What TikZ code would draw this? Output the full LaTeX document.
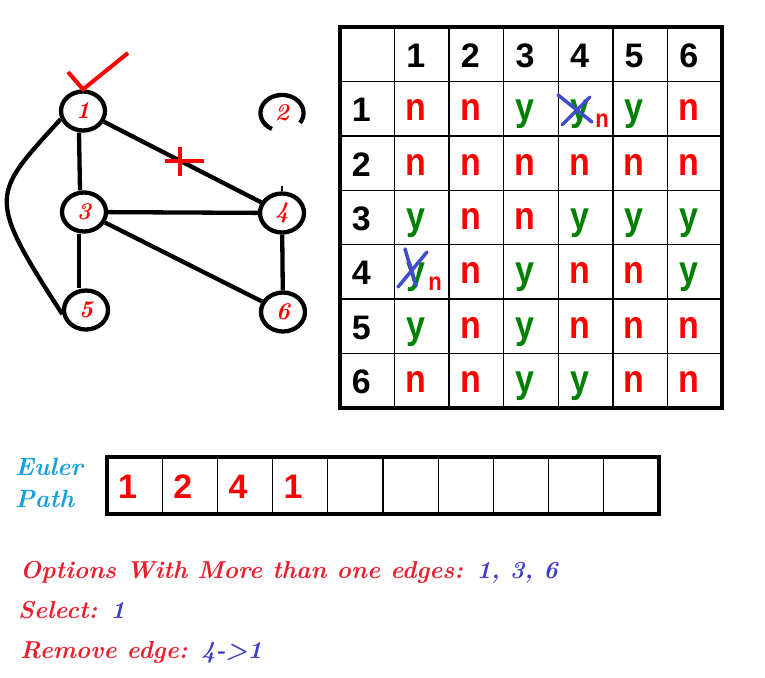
\documentclass[tikz,border=0pt]{standalone}
\usepackage{fontspec}
\usepackage{graphicx}
\newfontfamily\tabfont{Liberation Sans}
\usetikzlibrary{shapes.geometric}
\definecolor{nred}{RGB}{255,0,0}
\definecolor{ygreen}{RGB}{0,128,0}
\definecolor{xblue}{RGB}{65,75,205}
\definecolor{tred}{RGB}{235,30,45}
\definecolor{tblue}{RGB}{60,60,200}
\definecolor{eblue}{RGB}{20,160,225}
\begin{document}
\begin{tikzpicture}[x=1pt,y=1pt,
  vert/.style={ellipse,draw,line width=4.3pt,minimum width=44pt,minimum height=39pt,inner sep=0pt,
    font=\fontsize{24}{24}\selectfont\bfseries\itshape,text=nred},
  vertbare/.style={ellipse,minimum width=43pt,minimum height=36pt,inner sep=0pt,
    font=\fontsize{24}{24}\selectfont\bfseries\itshape,text=nred},
  edge/.style={line width=4.3pt},
  redmark/.style={line width=4pt,draw=nred},
  bluemark/.style={line width=3.5pt,draw=xblue,line cap=round},
  cell/.style={font=\tabfont\bfseries\fontsize{34}{34}\selectfont,anchor=base,inner sep=0pt},
  cell-y/.style={text=ygreen},
  cell-n/.style={text=nred},
  cell-h/.style={text=black},
  small n/.style={font=\tabfont\bfseries\fontsize{22}{22}\selectfont,anchor=base,inner sep=0pt,text=nred},
  ptext/.style={anchor=base west,inner sep=0pt,font=\fontsize{24.5}{24.5}\selectfont\bfseries\itshape,text=tred},
  eutext/.style={anchor=base west,inner sep=0pt,font=\fontsize{25}{25}\selectfont\bfseries\itshape,text=eblue},
]
\useasboundingbox (0,0) rectangle (765,-677);

% ---------- graph ----------
\node[vert] (v1) at (83,-111) {1};
\node[vertbare] (v2) at (282,-113) {2};
\node[vert] (v3) at (84,-212) {3};
\node[vert] (v4) at (282,-213) {4};
\node[vert] (v5) at (86,-310) {5};
\node[vert] (v6) at (283,-312) {6};
\begin{scope}[shift={(v2.center)}]
  \draw[edge] plot[domain=-33:242,samples=80,variable=\t] ({21.5*cos(\t)},{18*sin(\t)});
\end{scope}

\draw[edge] ([xshift=-4pt]v1.south) -- ([xshift=-4pt]v3.north);
\draw[edge] ([xshift=-5pt]v3.south) -- ([xshift=-7pt]v5.north);
\draw[edge] (v1) -- (v4);
\draw[edge] (v3) -- (v4);
\draw[edge] (v3) -- (v6);
\draw[edge] (v4) -- (v6);
\draw[edge] (v1.200) .. controls (-8,-195) and (-15,-195) .. (v5.190);
\draw[line width=2.5pt] (v4.north) -- ++(0,5);

% check mark and cross
\draw[redmark] (68,-72) -- (v1.north) -- (128,-53);
\draw[redmark] (165,-161) -- (204,-161);
\draw[redmark] (180,-147) -- (180,-176);

% ---------- table ----------
\foreach \k in {1,...,6} {
  \draw[line width=1.4pt] ({340+\k*54.57},-27) -- ({340+\k*54.57},-408);
  \draw[line width=1.4pt] (340,{-(27+\k*54.43)}) -- (722,{-(27+\k*54.43)});
}
\draw[line width=3.8pt] (340,-27) rectangle (722,-408);

\foreach \c in {1,...,6} {
  \node[cell,cell-h] (h\c) at ({340+(\c+0.5)*54.57-6},{-(27+0.5*54.43+13)}) {\c};
  \node[cell,cell-h] (r\c) at ({340+0.5*54.57-6},{-(27+(\c+0.5)*54.43+13)}) {\c};
}
\foreach \r/\vals in {1/{n,n,y,y,y,n},2/{n,n,n,n,n,n},3/{y,n,n,y,y,y},4/{y,n,y,n,n,y},5/{y,n,y,n,n,n},6/{n,n,y,y,n,n}} {
  \foreach \v [count=\c] in \vals {
    \node[cell,cell-\v] (c\r\c) at ({340+(\c+0.5)*54.57-6},{-(27+(\r+0.5)*54.43+12)}) {\scalebox{1}[1.15]{\v}};
  }
}
% crossed entries
\draw[bluemark] (558,-95) -- (592,-122);
\draw[bluemark] (590,-97) -- (562,-125);
\node[small n] (sn14) at (602,-127) {\scalebox{1}[1.15]{n}};
\draw[bluemark] (405,-249) -- (416,-286);
\draw[bluemark] (398,-287) -- (427,-252);
\node[small n] (sn41) at (435,-290) {\scalebox{1}[1.15]{n}};

% ---------- Euler path ----------
\node[eutext] (eu) at (15,-475) {Euler};
\node[eutext] (pa) at (15,-507) {Path};
\foreach \k in {1,...,9} {
  \draw[line width=1.3pt] ({107+\k*55.2},-457) -- ({107+\k*55.2},-514);
}
\draw[line width=3.8pt] (107,-457) rectangle (659,-514);
\foreach \v [count=\k] in {1,2,4,1} {
  \node[cell,text=nred] (e\k) at ({107+(\k-0.5)*55.2-7},-498) {\v};
}

% ---------- bottom text ----------
\node[ptext] (t1) at (20,-578) {Options With More than one edges: \textcolor{tblue}{1, 3, 6}};
\node[ptext] (t2) at (18,-618) {Select: \textcolor{tblue}{1}};
\node[ptext] (t3) at (20,-658) {Remove edge: \textcolor{tblue}{4->1}};
\end{tikzpicture}
\end{document}
